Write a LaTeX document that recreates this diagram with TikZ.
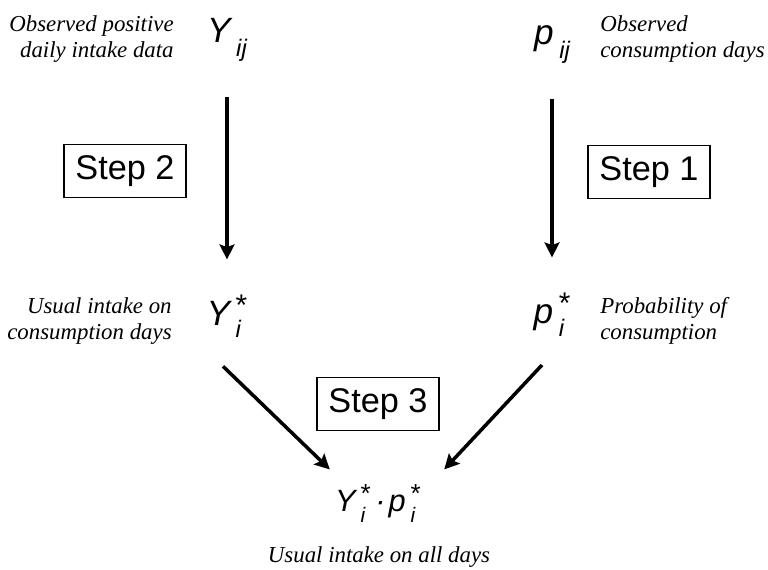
\documentclass[tikz,border=0pt]{standalone}
\usepackage{fontspec}
\setmainfont{Liberation Serif}
\newfontfamily\symfont{Liberation Sans}
\usetikzlibrary{arrows.meta,calc}

% letter with sub and sup: #1 letter, #2 sub, #3 sup, #4 drop of sub
\newcommand\qsym[4]{#1\kern0.16em\ooalign{\raisebox{0.3em}{\scalebox{0.85}{\upshape #3}}\cr\raisebox{-#4}{\scalebox{0.68}{#2}}\cr}}

\begin{document}
\begin{tikzpicture}[x=0.02cm,y=-0.02cm,
  every node/.style={inner sep=0pt},
  sym/.style={font=\symfont\itshape\fontsize{20}{24}\selectfont},
  note/.style={font=\itshape\fontsize{13}{14.8}\selectfont},
  stepbox/.style={draw=black,line width=1.1pt,font=\symfont\fontsize{19.5}{23}\selectfont,minimum width=2.44cm,minimum height=1.06cm},
  arr/.style={-{Stealth[length=8.5pt,width=8.5pt,inset=1.5pt]},line width=2pt},
  down/.style={arr,shorten <=20pt,shorten >=20pt}]
  \useasboundingbox (0,0) rectangle (768,570);
  % the symbols
  \node[sym,anchor=base] (Yij) at (227,43) {\qsym{Y}{ij}{}{0.38em}};
  \node[sym,anchor=base] (pij) at (552,45) {\qsym{p}{ij}{}{0.38em}};
  \node[sym,anchor=base] (Yi) at (227,326) {\qsym{Y}{i}{*}{0.34em}};
  \node[sym,anchor=base] (pi) at (552,324) {\qsym{p}{i}{*}{0.36em}};
  \node[sym,anchor=base,font=\symfont\itshape\fontsize{17.5}{21}\selectfont] (prod) at (378,512)
    {\qsym{Y}{i}{*}{0.34em}\kern0.15em·\kern0.1em\qsym{p}{i}{*}{0.34em}};
  % the notes
  \node[note,anchor=east,align=right] (obsY) at (174,39) {Observed positive\\daily intake data};
  \node[note,anchor=west,align=left] (obsp) at (600,39) {Observed\\consumption days};
  \node[note,anchor=east,align=right] (usual) at (172,321) {Usual intake on\\consumption days};
  \node[note,anchor=west,align=left] (prob) at (600,321) {Probability of\\consumption};
  \node[note,anchor=base] (all) at (379,563) {Usual intake on all days};
  % the steps
  \node[stepbox] (s2) at (125,171) {Step 2};
  \node[stepbox] (s1) at (649,172) {Step 1};
  \node[stepbox] (s3) at (378,404) {Step 3};
  \draw[down] (Yij.south) -- (Yi.north);
  \draw[down] (pij.south) -- (pi.north);
  \draw[arr] ($(Yi.south)+(-4,28)$) -- ($(prod.north west)+(-5,-15)$);
  \draw[arr] ($(pi.south)+(-10,28)$) -- ($(prod.north east)+(23,-15)$);
\end{tikzpicture}
\end{document}
